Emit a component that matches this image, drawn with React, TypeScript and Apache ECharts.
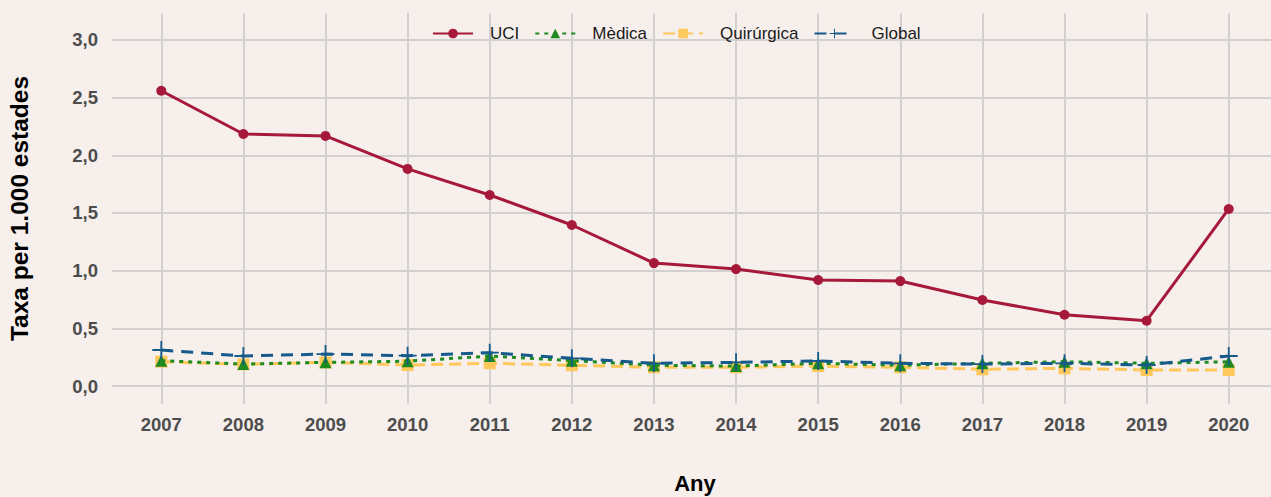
import React, { useEffect, useRef } from "react";
import * as echarts from "echarts";

const years = [2007, 2008, 2009, 2010, 2011, 2012, 2013, 2014, 2015, 2016, 2017, 2018, 2019, 2020];
const uci = [2.56, 2.185, 2.168, 1.882, 1.656, 1.396, 1.066, 1.014, 0.919, 0.91, 0.746, 0.618, 0.566, 1.535];
const medica = [0.22, 0.19, 0.205, 0.215, 0.26, 0.22, 0.18, 0.173, 0.197, 0.18, 0.197, 0.21, 0.197, 0.21];
const quirurgica = [0.211, 0.188, 0.205, 0.182, 0.197, 0.18, 0.162, 0.162, 0.173, 0.162, 0.145, 0.153, 0.139, 0.139];
const global = [0.312, 0.26, 0.277, 0.263, 0.289, 0.24, 0.197, 0.205, 0.217, 0.197, 0.19, 0.197, 0.182, 0.26];
const yTicks = [0, 0.5, 1, 1.5, 2, 2.5, 3];

const FONT = "'Liberation Sans', Arial, sans-serif";
const PLUS = "path://M0,9H20V11H0ZM9,0H11V20H9Z";

export default function App() {
  const ref = useRef<HTMLDivElement>(null);
  useEffect(() => {
    if (!ref.current) return;
    const chart = echarts.init(ref.current, undefined, { renderer: "svg" });
    const pair = (arr: number[]) => years.map((y, i) => [y, arr[i]]);
    chart.setOption({
      animation: false,
      backgroundColor: "#f6efec",
      textStyle: { fontFamily: FONT },
      grid: {
        left: 112,
        width: 1166,
        top: 13,
        height: 391,
        containLabel: false,
        outerBoundsMode: "none",
      },
      legend: {
        top: 25,
        left: 432,
        padding: 0,
        itemWidth: 40,
        itemHeight: 12,
        itemGap: 15,
        textStyle: { fontSize: 17, color: "#1a1a1a", fontFamily: FONT, padding: [0, 0, 0, 12] },
        data: [
          { name: "UCI" },
          { name: "Mèdica" },
          { name: "Quirúrgica" },
          { name: "Global" },
        ],
      },
      xAxis: {
        type: "value",
        min: 2006.4,
        max: 2020.6,
        name: "Any",
        nameLocation: "middle",
        nameGap: 68,
        nameTextStyle: { fontSize: 22, fontWeight: "bold", color: "#000", fontFamily: FONT },
        axisLine: { show: false },
        axisTick: { show: false, customValues: years },
        axisLabel: {
          customValues: years,
          fontSize: 18.5,
          fontWeight: "bold",
          color: "#4d4d4d",
          margin: 11,
          fontFamily: FONT,
          formatter: (v: number) => String(v),
        },
        splitLine: { show: true, lineStyle: { color: "#d3d1cf", width: 2 } },
      },
      yAxis: {
        type: "value",
        min: -0.156,
        max: 3.234,
        name: "Taxa per 1.000 estades",
        nameLocation: "middle",
        nameGap: 80,
        nameTextStyle: { fontSize: 24.5, fontWeight: "bold", color: "#000", fontFamily: FONT },
        axisLine: { show: false },
        axisTick: { show: false, customValues: yTicks },
        axisLabel: {
          customValues: yTicks,
          fontSize: 18.5,
          fontWeight: "bold",
          color: "#4d4d4d",
          margin: 14,
          fontFamily: FONT,
          formatter: (v: number) => v.toFixed(1).replace(".", ","),
        },
        splitLine: { show: true, lineStyle: { color: "#d3d1cf", width: 2 } },
      },
      series: [
        {
          name: "UCI",
          type: "line",
          data: pair(uci),
          symbol: "circle",
          symbolSize: 10,
          itemStyle: { color: "#a6193a" },
          lineStyle: { color: "#a6193a", width: 3 },
          z: 5,
        },
        {
          name: "Mèdica",
          type: "line",
          data: pair(medica),
          symbol: "triangle",
          symbolSize: 12,
          itemStyle: { color: "#1f8a1f" },
          lineStyle: { color: "#1f8a1f", width: 3, type: [4, 5] },
          z: 4,
        },
        {
          name: "Quirúrgica",
          type: "line",
          data: pair(quirurgica),
          symbol: "rect",
          symbolSize: 12,
          itemStyle: { color: "#ffc85a" },
          lineStyle: { color: "#ffc85a", width: 3, type: [12, 6] },
          z: 3,
        },
        {
          name: "Global",
          type: "line",
          data: pair(global),
          symbol: PLUS,
          symbolSize: 18,
          itemStyle: { color: "#155a8a" },
          lineStyle: { color: "#155a8a", width: 3, type: [12, 8] },
          z: 6,
        },
      ],
    });
    return () => chart.dispose();
  }, []);
  return (
    <div
      ref={ref}
      style={{ position: "fixed", left: 0, top: 0, width: 1271, height: 497 }}
    />
  );
}
